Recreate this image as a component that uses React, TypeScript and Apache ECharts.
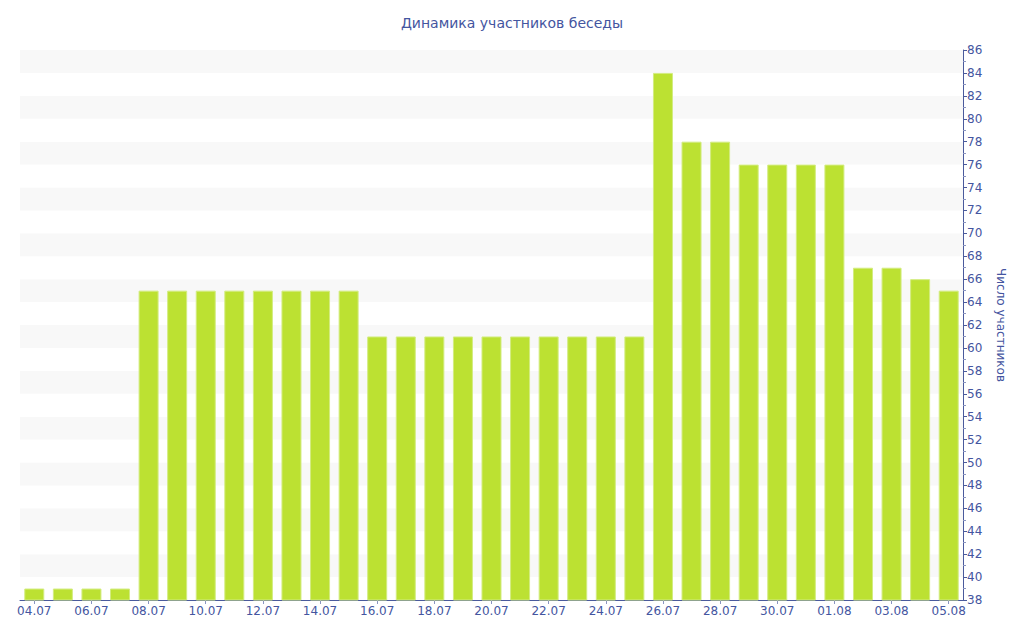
import React, { useEffect, useRef } from "react";
import * as echarts from "echarts";

const categories = [
  "04.07", "05.07", "06.07", "07.07", "08.07", "09.07", "10.07", "11.07", "12.07", "13.07",
  "14.07", "15.07", "16.07", "17.07", "18.07", "19.07", "20.07", "21.07", "22.07", "23.07",
  "24.07", "25.07", "26.07", "27.07", "28.07", "29.07", "30.07", "31.07", "01.08", "02.08",
  "03.08", "04.08", "05.08",
];
const participants = [
  39, 39, 39, 39, 65, 65, 65, 65, 65, 65,
  65, 65, 61, 61, 61, 61, 61, 61, 61, 61,
  61, 61, 84, 78, 78, 76, 76, 76, 76, 67,
  67, 66, 65,
];
const titleText = "Динамика участников беседы";
const axisName = "Число участников";

const textColor = "#4455a0";
const font = "DejaVu Sans, Verdana, sans-serif";

export default function App() {
  const ref = useRef<HTMLDivElement>(null);
  useEffect(() => {
    if (!ref.current) return;
    const chart = echarts.init(ref.current, undefined, { renderer: "svg" });
    chart.setOption({
      animation: false,
      backgroundColor: "#ffffff",
      title: {
        text: titleText,
        left: "center",
        top: 11,
        textStyle: { color: textColor, fontSize: 14, fontWeight: "normal", fontFamily: font },
      },
      grid: { left: 20, right: 61, top: 50, bottom: 40 },
      xAxis: {
        type: "category",
        data: categories,
        axisLine: { lineStyle: { color: "#4a5a9c", width: 1 } },
        axisTick: { show: true, alignWithLabel: true, interval: 1, length: 4, lineStyle: { color: "#8a94c0" } },
        axisLabel: { interval: 1, color: textColor, fontSize: 12, fontFamily: font, margin: 5 },
        splitLine: { show: false },
      },
      yAxis: {
        type: "value",
        position: "right",
        min: 38,
        max: 86,
        interval: 2,
        name: axisName,
        nameLocation: "middle",
        nameRotate: -90,
        nameGap: 32,
        nameTextStyle: { color: textColor, fontSize: 12, fontFamily: font },
        axisLine: { show: true, lineStyle: { color: "#4a5a9c", width: 1 } },
        axisTick: { show: true, length: 4, lineStyle: { color: "#4a5a9c" } },
        minorTick: { show: true, splitNumber: 2, length: 3, lineStyle: { color: "#8a94c0" } },
        axisLabel: { color: textColor, fontSize: 12, fontFamily: font, margin: 4 },
        splitLine: { show: false },
        splitArea: { show: true, areaStyle: { color: ["#ffffff", "#f8f8f8"] } },
      },
      series: [
        {
          type: "bar",
          data: participants,
          barCategoryGap: "30%",
          itemStyle: { color: "#bce132", borderColor: "#d3ec80", borderWidth: 1 },
        },
      ],
    });
    return () => chart.dispose();
  }, []);
  return (
    <div
      ref={ref}
      style={{ position: "fixed", left: 0, top: 0, width: 1024, height: 640 }}
    />
  );
}
